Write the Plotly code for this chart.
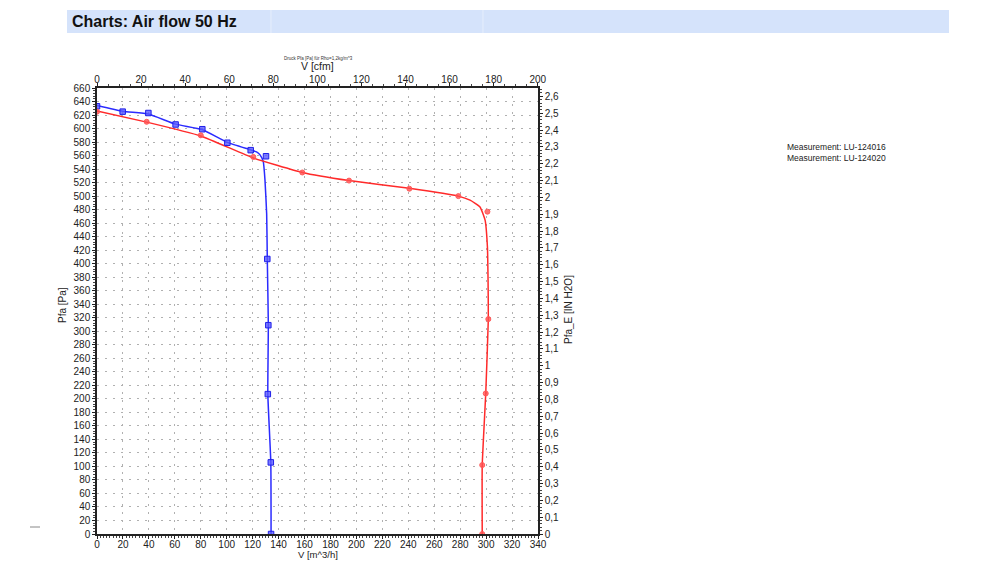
import plotly.graph_objects as go

# ---- data ----
blue_pts_v = [0, 19.8, 39.6, 60.6, 81.2, 100.5, 118.5, 130.3, 131.3, 132.1, 131.7, 134.0, 134.2]
blue_pts_p = [633, 625, 623, 606, 599, 579, 568, 559, 407, 309, 207, 106, 0]
blue_fit_v = [0, 19.8, 39.6, 60.6, 81.0, 100.5, 118.5, 123.0, 125.7, 128.2, 129.5, 130.8, 131.3, 132.1, 131.7, 134.0, 134.2]
blue_fit_p = [634, 625.5, 621.5, 606.5, 598.5, 579.5, 568.5, 565.5, 561, 551, 524, 474, 407, 309, 207, 106, 0]

red_pts_v = [0, 38.3, 80.0, 120.5, 158.3, 194.3, 240.8, 278.6, 301.0, 301.7, 299.7, 297.0, 297.0]
red_pts_p = [625, 610, 590, 558, 535, 523, 511, 500, 477, 318, 208, 102, 0]
red_fit_v = [0, 38.3, 80.0, 120.5, 158.3, 194.3, 240.8, 278.6, 287.6, 295.3, 299.2, 301.0, 301.5, 301.7, 299.7, 297.0, 297.0]
red_fit_p = [626, 609.5, 589, 556.5, 535, 523, 511.5, 500, 494, 484, 464.5, 425, 375, 318, 208, 101.6, 0]

x_ticks_m3h = list(range(0, 341, 20))
x_ticks_cfm = list(range(0, 201, 20))
y_ticks_pa = list(range(0, 661, 20))

series_names = ["Measurement: LU-124016", "Measurement: LU-124020"]

M3H_PER_CFM = 1.699011
PA_PER_INH2O = 249.089
X_MAX = 340
Y_MAX = 660

# ---- layout geometry ----
W, H = 1000, 573
L, R, T, B = 97, 538, 88, 534

def px(x):
    return (x - L) / (R - L)

def py(y):
    return (B - y) / (B - T)

FONT = "Liberation Sans, Arial, sans-serif"
BLUE = "#2b2bff"
RED = "#ff2a2a"

fig = go.Figure()

fig.add_trace(go.Scatter(x=blue_fit_v, y=blue_fit_p, mode="lines",
                         line=dict(color=BLUE, width=1.5, shape="spline", smoothing=0.4),
                         showlegend=False, hoverinfo="skip"))
fig.add_trace(go.Scatter(x=red_fit_v, y=red_fit_p, mode="lines",
                         line=dict(color=RED, width=1.5, shape="spline", smoothing=0.4),
                         showlegend=False, hoverinfo="skip"))
fig.add_trace(go.Scatter(x=blue_pts_v, y=blue_pts_p, mode="markers", name=series_names[0],
                         marker=dict(symbol="square", size=5.5, color="rgba(90,90,255,0.8)",
                                     line=dict(color="#2020e8", width=1)),
                         showlegend=False))
fig.add_trace(go.Scatter(x=red_pts_v, y=red_pts_p, mode="markers", name=series_names[1],
                         marker=dict(symbol="circle", size=5, color="rgba(255,80,80,0.8)",
                                     line=dict(color="#ff5a5a", width=1)),
                         showlegend=False))
# empty trace to bind secondary axes
fig.add_trace(go.Scatter(x=[], y=[], xaxis="x2", yaxis="y2", showlegend=False))

tickfont = dict(family=FONT, size=10, color="#222")
grid_common = dict(showgrid=True, gridcolor="#b0b0b0", griddash="2px,6px", gridwidth=1)

fig.update_layout(
    width=W, height=H,
    margin=dict(l=L, r=W - R, t=T, b=H - B),
    paper_bgcolor="white", plot_bgcolor="white",
    separators=", ",
    showlegend=False,
    xaxis=dict(range=[0, X_MAX], tickvals=x_ticks_m3h, ticks="outside", ticklen=3,
               tickcolor="#222", showline=True, linecolor="#222", linewidth=1.5,
               tickfont=tickfont, zeroline=False, mirror=False, ticklabelstandoff=-3,
               minor=dict(dtick=2.5, ticks="outside", ticklen=2, tickcolor="#444", showgrid=False),
               **grid_common),
    xaxis2=dict(range=[0, X_MAX / M3H_PER_CFM], tickvals=x_ticks_cfm, overlaying="x",
                side="top", anchor="y", ticks="outside", ticklen=3, tickcolor="#222",
                showline=True, linecolor="#222", linewidth=1.5, tickfont=tickfont,
                zeroline=False, showgrid=False, ticklabelstandoff=-4,
                minor=dict(dtick=5, ticks="outside", ticklen=2, tickcolor="#444")),
    yaxis=dict(range=[0, Y_MAX], tickvals=y_ticks_pa, ticks="outside", ticklen=3,
               tickcolor="#222", showline=True, linecolor="#222", linewidth=1.5,
               tickfont=tickfont, zeroline=False,
               minor=dict(dtick=4, ticks="outside", ticklen=2, tickcolor="#444", showgrid=False),
               **grid_common),
    yaxis2=dict(range=[0, Y_MAX / PA_PER_INH2O], dtick=0.1, tick0=0, overlaying="y",
                side="right", anchor="x", ticks="outside", ticklen=3, tickcolor="#222",
                showline=True, linecolor="#222", linewidth=1.5, tickfont=tickfont,
                zeroline=False, showgrid=False,
                minor=dict(dtick=0.02, ticks="outside", ticklen=2, tickcolor="#444")),
)

shapes = [
    dict(type="rect", xref="paper", yref="paper", x0=px(67), x1=px(949), y0=py(33), y1=py(10),
         fillcolor="#d5e3fb", line=dict(width=0), layer="below"),
    dict(type="line", xref="paper", yref="paper", x0=px(271), x1=px(271), y0=py(33), y1=py(10),
         line=dict(color="#e6eefc", width=1)),
    dict(type="line", xref="paper", yref="paper", x0=px(483), x1=px(483), y0=py(33), y1=py(10),
         line=dict(color="#e6eefc", width=1)),
    dict(type="line", xref="paper", yref="paper", x0=px(30), x1=px(40), y0=py(527), y1=py(527),
         line=dict(color="#888", width=1)),
]
fig.update_layout(shapes=shapes)

NARROW = "Liberation Sans Narrow, Arial Narrow, Liberation Sans, Arial"
ann = [
    dict(text="<b>Charts: Air flow 50 Hz</b>", x=px(70), y=py(21.5), xanchor="left", yanchor="middle",
         font=dict(family=NARROW, size=16, color="#111")),
    dict(text="Druck Pfa [Pa] für Rho=1,2kg/m^3", x=px(318), y=py(58), xanchor="center", yanchor="middle",
         font=dict(family=FONT, size=4.5, color="#333")),
    dict(text="V [cfm]", x=px(317), y=py(66), xanchor="center", yanchor="middle",
         font=dict(family=FONT, size=10.5, color="#222")),
    dict(text="V [m^3/h]", x=px(318), y=py(554), xanchor="center", yanchor="middle",
         font=dict(family=FONT, size=9.5, color="#222")),
    dict(text="Pfa [Pa]", x=px(62), y=py(305), xanchor="center", yanchor="middle", textangle=-90,
         font=dict(family=FONT, size=10, color="#222")),
    dict(text="Pfa_E [IN H2O]", x=px(568), y=py(310), xanchor="center", yanchor="middle", textangle=-90,
         font=dict(family=FONT, size=10, color="#222")),
    dict(text=series_names[0], x=px(785), y=py(147), xanchor="left", yanchor="middle",
         font=dict(family=NARROW, size=8.5, color="#222")),
    dict(text=series_names[1], x=px(785), y=py(158), xanchor="left", yanchor="middle",
         font=dict(family=NARROW, size=8.5, color="#222")),
]
for a in ann:
    a.update(xref="paper", yref="paper", showarrow=False)
fig.update_layout(annotations=ann)

fig.write_html("out.html")
